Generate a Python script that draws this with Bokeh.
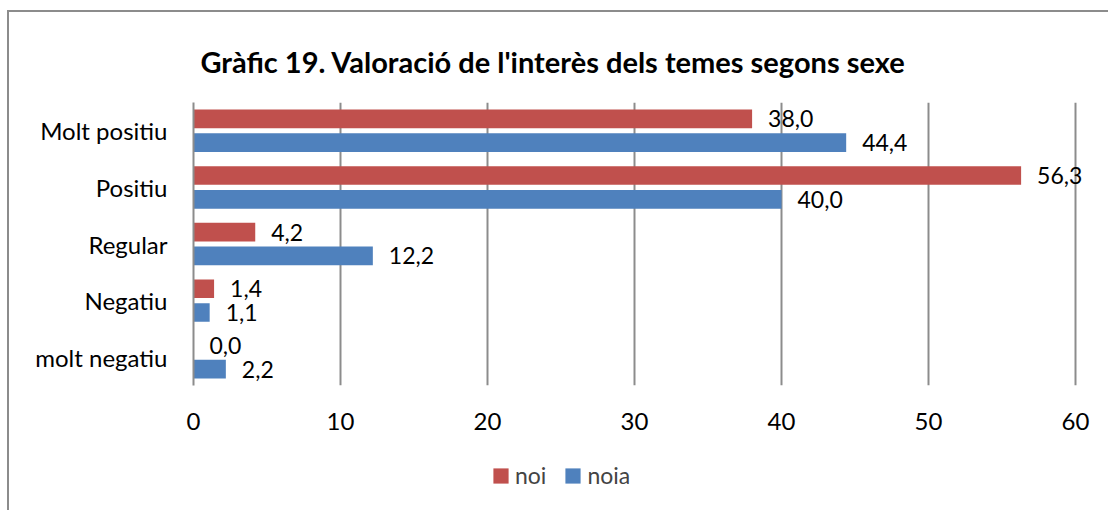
from bokeh.plotting import figure
from bokeh.layouts import column
from bokeh.models import ColumnDataSource, FactorRange, Range1d, Legend, LegendItem, FixedTicker, Label
from bokeh.transform import dodge
from bokeh.core.properties import value
from bokeh.embed import file_html
from bokeh.resources import INLINE

categories = ["Molt positiu", "Positiu", "Regular", "Negatiu", "molt negatiu"]
noi = [38.0, 56.3, 4.2, 1.4, 0.0]
noia = [44.4, 40.0, 12.2, 1.1, 2.2]
series_names = ["noi", "noia"]
x_ticks = [0, 10, 20, 30, 40, 50, 60]
x_max_axis = 60
title_text = "Gràfic 19. Valoració de l'interès dels temes segons sexe"

RED = "#C0504D"
BLUE = "#4F81BD"
GRID = "#8c8c8c"
FONT = "Lato"


def fmt(v):
    return f"{v:.1f}".replace(".", ",")


src = ColumnDataSource(dict(
    cat=categories,
    noi=noi,
    noia=noia,
    noi_lbl=[fmt(v) for v in noi],
    noia_lbl=[fmt(v) for v in noia],
))

W = 1099
H_TITLE, H_MAIN, H_LEG = 80, 348, 70
left_border, right_pad = 184, 33
frame_w = W - left_border - right_pad
# extend range so that the frame reaches the canvas edge (labels not clipped)
x_end = x_max_axis * (frame_w + right_pad) / frame_w

p = figure(
    width=W, height=H_MAIN,
    y_range=FactorRange(*reversed(categories)),
    x_range=Range1d(0, x_end),
    output_backend="svg", toolbar_location=None,
    min_border_left=left_border, min_border_right=0,
    min_border_top=10, min_border_bottom=55,
)

off = 0.21
h = 0.33
r1 = p.hbar(y=dodge("cat", off, range=p.y_range), left=0, right="noi", height=h,
            fill_color=RED, line_color=None, source=src)
r2 = p.hbar(y=dodge("cat", -off, range=p.y_range), left=0, right="noia", height=h,
            fill_color=BLUE, line_color=None, source=src)

p.text(x="noi", y=dodge("cat", off, range=p.y_range), text="noi_lbl", source=src,
       x_offset=16, text_baseline="middle", text_align="left",
       text_font=value(FONT), text_font_size=value("23px"), text_color="#000000")
p.text(x="noia", y=dodge("cat", -off, range=p.y_range), text="noia_lbl", source=src,
       x_offset=16, text_baseline="middle", text_align="left",
       text_font=value(FONT), text_font_size=value("23px"), text_color="#000000")

# Axes
p.xaxis.ticker = FixedTicker(ticks=x_ticks)
p.xaxis.axis_line_color = None
p.xaxis.major_tick_line_color = None
p.xaxis.minor_tick_line_color = None
p.xaxis.major_label_standoff = 21
p.xaxis.major_label_text_font = FONT
p.xaxis.major_label_text_font_size = "24px"
p.xaxis.major_label_text_color = "#000000"

p.yaxis.axis_line_color = GRID
p.yaxis.axis_line_width = 2
p.yaxis.major_tick_line_color = None
p.yaxis.minor_tick_line_color = None
p.yaxis.major_label_standoff = 20
p.yaxis.major_label_text_font = FONT
p.yaxis.major_label_text_font_size = "24px"
p.yaxis.major_label_text_color = "#000000"

p.xgrid.grid_line_color = GRID
p.xgrid.grid_line_width = 2
p.ygrid.grid_line_color = None
p.outline_line_color = None

# Title strip (separate canvas above the chart)
pt = figure(
    width=W, height=H_TITLE, x_range=p.x_range, y_range=p.y_range,
    output_backend="svg", toolbar_location=None,
    x_axis_location=None, y_axis_location=None,
    min_border=0,
)
pt.grid.grid_line_color = None
pt.outline_line_color = None
pt.add_layout(Label(
    x=7, y=31, x_units="screen", y_units="screen", text=title_text,
    text_align="left", text_baseline="alphabetic",
    text_font=FONT, text_font_style="bold", text_font_size="29px", text_color="#000000",
))

# Legend strip (separate canvas so it is not clipped by the plot frame)
pl = figure(
    width=W, height=H_LEG, x_range=p.x_range, y_range=p.y_range,
    output_backend="svg", toolbar_location=None,
    x_axis_location=None, y_axis_location=None,
    min_border=0,
)
pl.grid.grid_line_color = None
pl.outline_line_color = None
lr1 = pl.hbar(y=dodge("cat", off, range=p.y_range), left=0, right="noi", height=h,
              fill_color=RED, line_color=None, source=src, visible=False)
lr2 = pl.hbar(y=dodge("cat", -off, range=p.y_range), left=0, right="noia", height=h,
              fill_color=BLUE, line_color=None, source=src, visible=False)
legend = Legend(
    items=[LegendItem(label=series_names[0], renderers=[lr1]),
           LegendItem(label=series_names[1], renderers=[lr2])],
    orientation="horizontal",
    location=(298, 21),
    glyph_width=19, glyph_height=19,
    label_standoff=5, spacing=17, padding=5, margin=0,
    label_text_font=FONT, label_text_font_size="23px",
    border_line_color=None, background_fill_alpha=0,
)
pl.add_layout(legend, "center")

layout = column(pt, p, pl, spacing=0)
layout.styles = {
    "border-left": f"2px solid {GRID}",
    "border-top": f"2px solid {GRID}",
    "margin-left": "7px",
    "margin-top": "10px",
}

open("out.html", "w").write(file_html(layout, INLINE))
